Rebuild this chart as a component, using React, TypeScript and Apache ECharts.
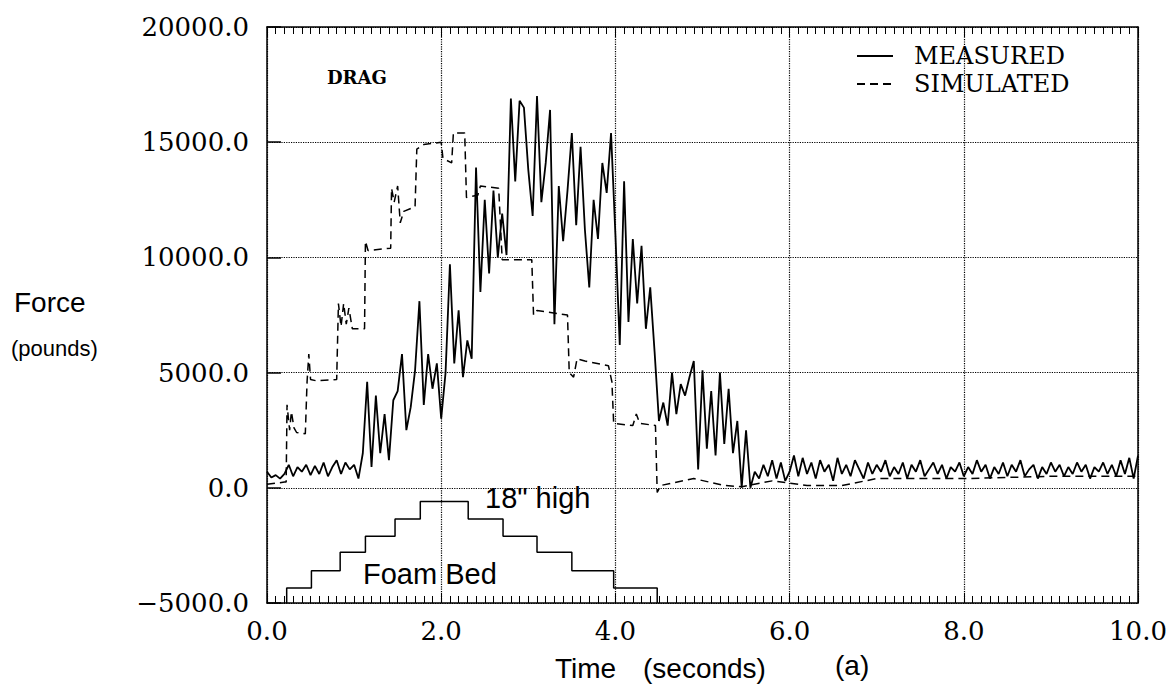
import React, { useEffect, useRef } from "react";
import * as echarts from "echarts";

// Measured drag force, sampled every 0.05 s from 0.0 to 10.0 s (pounds)
const MEASURED_STEP = 0.05;
const MEASURED = [
  700, 450, 550, 400, 600, 1000, 500, 900, 700, 1000,
  550, 950, 600, 1100, 500, 900, 1200, 600, 1100, 800,
  1000, 400, 1500, 4600, 900, 4000, 1500, 3200, 1200, 3800,
  4200, 5800, 2500, 3500, 5100, 8100, 3600, 5800, 4300, 5400,
  3000, 5000, 9700, 5400, 7700, 4800, 6400, 5600, 13900, 8500,
  12500, 9300, 12900, 10000, 11900, 10100, 16900, 13300, 16800, 16500,
  13800, 11800, 17000, 12400, 14100, 16400, 7100, 13100, 10700, 12900,
  15400, 11400, 14800, 11200, 8700, 12500, 10800, 14100, 12800, 15400,
  11000, 6200, 13300, 7200, 10800, 8000, 10500, 6900, 8700, 5900,
  2900, 3700, 2700, 5000, 3200, 4500, 4000, 4800, 5500, 800,
  5100, 1700, 4200, 1400, 5000, 1900, 4300, 1500, 2900, 0,
  2500, 0, 700, 400, 1000, 500, 1200, 400, 1100, 300,
  700, 1400, 500, 1300, 600, 1100, 400, 1200, 700, 1000,
  300, 1300, 600, 1000, 500, 1200, 800, 400, 1100, 600,
  1000, 700, 1200, 500, 900, 600, 1100, 400, 1000, 700,
  1200, 500, 800, 1100, 600, 1000, 400, 900, 700, 1100,
  500, 900, 600, 1200, 700, 1000, 400, 900, 600, 1100,
  500, 1000, 700, 1200, 500, 800, 1000, 400, 900, 600,
  1100, 700, 1000, 500, 900, 600, 1100, 700, 1000, 400,
  900, 700, 1100, 600, 1000, 500, 1200, 600, 1300, 400,
  1400,
];

// Simulated drag force (time s, force lb)
const SIM_T = [
  0, 0.2, 0.22, 0.23, 0.26, 0.28, 0.31, 0.34, 0.44, 0.46,
  0.48, 0.5, 0.56, 0.8, 0.82, 0.85, 0.88, 0.91, 0.94, 0.98,
  1.03, 1.12, 1.13, 1.16, 1.42, 1.43, 1.46, 1.5, 1.53, 1.57,
  1.7, 1.72, 1.8, 2.0, 2.02, 2.12, 2.14, 2.27, 2.29, 2.42,
  2.45, 2.66, 2.7, 3.04, 3.06, 3.1, 3.45, 3.47, 3.52, 3.56,
  3.65, 3.92, 3.96, 3.98, 4.2, 4.24, 4.28, 4.46, 4.48, 4.52,
  4.9, 5.25, 5.45, 5.8, 6.2, 6.6, 7.0, 8.0, 9.0, 10.0,
];
const SIM_V = [
  150, 250, 250, 3600, 2500, 3300, 2600, 2400, 2350, 4600,
  5800, 4700, 4650, 4700, 8000, 7000, 8000, 7100, 7800, 6900,
  6900, 6900, 10700, 10300, 10400, 13000, 12400, 13100, 11500, 12000,
  12200, 14700, 14900, 15000, 14300, 14100, 15400, 15400, 12600, 12700,
  13100, 13000, 9900, 9900, 7500, 7700, 7500, 5000, 4800, 5600,
  5500, 5300, 4600, 2800, 2700, 3200, 2800, 2700, -200, 100,
  400, 100, 50, 300, 100, 100, 400, 400, 500, 500,
];

// Foam bed profile outline (drawn in force units below zero)
const FOAM_T = [
  0.226, 0.226, 0.51, 0.51, 0.84, 0.84, 1.13, 1.13, 1.47, 1.47, 1.76, 1.76,
  2.31, 2.31, 2.71, 2.71, 3.1, 3.1, 3.5, 3.5, 3.98, 3.98, 4.48, 4.48,
];
const FOAM_V = [
  -5000, -4350, -4350, -3600, -3600, -2800, -2800, -2100, -2100, -1350, -1350, -600,
  -600, -1350, -1350, -2100, -2100, -2800, -2800, -3600, -3600, -4350, -4350, -5000,
];

const SERIES_NAMES = ["MEASURED", "SIMULATED"];

const SERIF = "'DejaVu Serif', serif";
const SANS = "'Liberation Sans', Arial, sans-serif";

export default function App() {
  const ref = useRef<HTMLDivElement>(null);

  useEffect(() => {
    if (!ref.current) return;
    const chart = echarts.init(ref.current, null, { renderer: "svg" });

    const measuredData = MEASURED.map((v, i) => [+(i * MEASURED_STEP).toFixed(2), v]);
    const simData = SIM_T.map((t, i) => [t, SIM_V[i]]);
    const foamData = FOAM_T.map((t, i) => [t, FOAM_V[i]]);

    const yFmt = (v: number) => (v < 0 ? "\u2212" + Math.abs(v).toFixed(1) : v.toFixed(1));

    chart.setOption({
      animation: false,
      grid: { left: 267, right: 37, top: 27, bottom: 83, outerBoundsMode: "none" },
      legend: {
        data: SERIES_NAMES,
        orient: "vertical",
        left: 851,
        top: 39,
        itemWidth: 36,
        itemHeight: 20,
        itemGap: 4,
        itemStyle: { opacity: 0 },
        textStyle: { fontFamily: SERIF, fontSize: 24, color: "#000", padding: [0, 0, 0, 16] },
      },
      xAxis: [
        {
          type: "value",
          min: 0,
          max: 10,
          interval: 2,
          position: "bottom",
          axisLine: { show: true, onZero: false, lineStyle: { color: "#000", width: 1.5 } },
          axisTick: { show: true, inside: true, length: 10, lineStyle: { color: "#000", width: 1 } },
          minorTick: { show: true, splitNumber: 20, length: 7, lineStyle: { color: "#000", width: 1 } },
          axisLabel: {
            formatter: (v: number) => v.toFixed(1),
            fontFamily: SERIF,
            fontSize: 26,
            color: "#000",
            margin: 15,
          },
          splitLine: { show: true, lineStyle: { type: "dotted", color: "#000", width: 1.2 } },
        },
        {
          type: "value",
          min: 0,
          max: 10,
          interval: 2,
          position: "top",
          axisLine: { show: true, onZero: false, lineStyle: { color: "#000", width: 1.5 } },
          axisTick: { show: true, inside: true, length: 10, lineStyle: { color: "#000", width: 1 } },
          minorTick: { show: true, splitNumber: 20, length: 7, lineStyle: { color: "#000", width: 1 } },
          axisLabel: { show: false },
          splitLine: { show: false },
        },
      ],
      yAxis: [
        {
          type: "value",
          min: -5000,
          max: 20000,
          interval: 5000,
          position: "left",
          axisLine: { show: true, onZero: false, lineStyle: { color: "#000", width: 1.5 } },
          axisTick: { show: true, inside: true, length: 14, lineStyle: { color: "#000", width: 1.5 } },
          axisLabel: {
            formatter: yFmt,
            fontFamily: SERIF,
            fontSize: 26,
            color: "#000",
            margin: 18,
          },
          splitLine: { show: true, lineStyle: { type: "dotted", color: "#000", width: 1.2 } },
        },
        {
          type: "value",
          min: -5000,
          max: 20000,
          interval: 5000,
          position: "right",
          axisLine: { show: true, onZero: false, lineStyle: { color: "#000", width: 1.5 } },
          axisTick: { show: false },
          axisLabel: { show: false },
          splitLine: { show: false },
        },
      ],
      series: [
        {
          name: "MEASURED",
          type: "line",
          data: measuredData,
          symbol: "none",
          lineStyle: { color: "#000", width: 1.8 },
          itemStyle: { color: "#000" },
          z: 4,
        },
        {
          name: "SIMULATED",
          type: "line",
          data: simData,
          symbol: "none",
          lineStyle: { color: "#000", width: 1.5, type: [8, 5] },
          itemStyle: { color: "#000" },
          z: 3,
        },
        {
          name: "Foam Bed",
          type: "line",
          data: foamData,
          symbol: "none",
          lineStyle: { color: "#000", width: 1.5 },
          itemStyle: { color: "#000" },
          z: 3,
        },
      ],
      graphic: [
        {
          type: "text",
          x: 327,
          y: 77,
          style: { text: "DRAG", fontFamily: SERIF, fontSize: 18, fontWeight: "bold", fill: "#000", verticalAlign: "middle" },
        },
        {
          type: "text",
          x: 14,
          y: 302,
          style: { text: "Force", fontFamily: SANS, fontSize: 28, fill: "#000", verticalAlign: "middle" },
        },
        {
          type: "text",
          x: 11,
          y: 348,
          style: { text: "(pounds)", fontFamily: SANS, fontSize: 22, fill: "#000", verticalAlign: "middle" },
        },
        {
          type: "text",
          x: 555,
          y: 668,
          style: { text: "Time", fontFamily: SANS, fontSize: 28, fill: "#000", verticalAlign: "middle" },
        },
        {
          type: "text",
          x: 643,
          y: 668,
          style: { text: "(seconds)", fontFamily: SANS, fontSize: 28, fill: "#000", verticalAlign: "middle" },
        },
        {
          type: "text",
          x: 835,
          y: 665,
          style: { text: "(a)", fontFamily: SANS, fontSize: 28, fill: "#000", verticalAlign: "middle" },
        },
        {
          type: "text",
          x: 485,
          y: 498,
          style: { text: "18\" high", fontFamily: SANS, fontSize: 29, fill: "#000", verticalAlign: "middle" },
        },
        {
          type: "text",
          x: 363,
          y: 574,
          style: { text: "Foam Bed", fontFamily: SANS, fontSize: 29, fill: "#000", verticalAlign: "middle" },
        },
      ],
    });

    return () => chart.dispose();
  }, []);

  return (
    <div
      ref={ref}
      style={{ position: "fixed", left: 0, top: 0, width: 1175, height: 686, background: "#fff" }}
    />
  );
}
